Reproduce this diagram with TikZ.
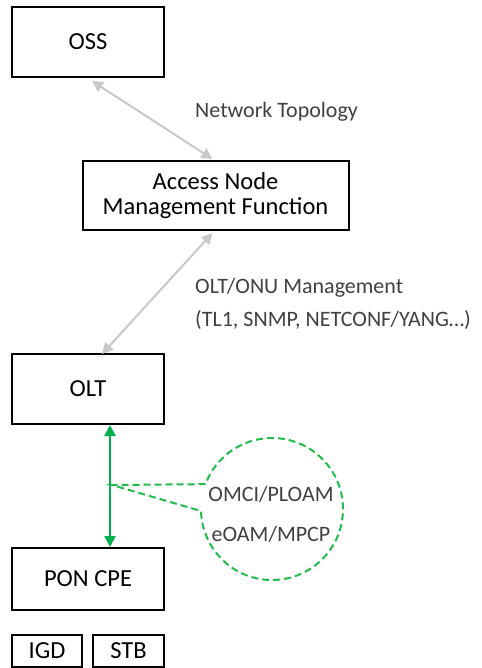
\documentclass[tikz,border=0pt]{standalone}
\usepackage{fontspec}
\setmainfont{Carlito}
\usetikzlibrary{arrows.meta,calc}
\definecolor{lgray}{HTML}{C8C8C8}
\definecolor{pgreen}{HTML}{00B050}
\definecolor{dgreen}{HTML}{22BB4C}
\definecolor{ltext}{HTML}{404040}
\tikzset{
  box/.style={draw=black,line width=2pt,inner sep=0pt,align=center,font=\fontsize{24.5}{25}\selectfont},
  grayarrow/.style={draw=lgray,line width=2pt,{Triangle[length=11pt,width=11pt]}-{Triangle[length=11pt,width=11pt]},shorten >=0pt,shorten <=0pt},
  greenarrow/.style={draw=pgreen,line width=2pt,{Triangle[length=11pt,width=11pt]}-{Triangle[length=11pt,width=11pt]}},
  callout/.style={draw=dgreen,line width=2pt,dash pattern=on 7pt off 4pt,line join=miter},
  lbl/.style={text=ltext,inner sep=0pt,anchor=west,font=\fontsize{22}{26}\selectfont},
}
\begin{document}
\begin{tikzpicture}[x=1pt,y=-1pt]
\useasboundingbox (0,0) rectangle (481,668);
\node[box,minimum width=152pt,minimum height=70pt] (oss) at (88,42) {OSS};
\node[box,minimum width=266pt,minimum height=69pt] (anmf) at (215.5,195.5) {Access Node\\Management Function};
\node[box,minimum width=152pt,minimum height=70pt] (olt) at (88,389) {OLT};
\node[box,minimum width=152pt,minimum height=62pt] (cpe) at (88,579) {PON CPE};
\node[box,minimum width=70pt,minimum height=32pt] (igd) at (47,651) {IGD};
\node[box,minimum width=71pt,minimum height=32pt] (stb) at (128.5,651) {STB};
\draw[grayarrow] ($(oss.south west)+(81,3)$) -- ($(anmf.north west)+(131,-1)$);
\draw[grayarrow] ($(anmf.south west)+(131,2)$) -- ($(olt.north west)+(91,1)$);
\draw[greenarrow] ($(olt.south west)+(99,0)$) -- ($(cpe.north west)+(99,0)$);
\coordinate (tip) at ($(olt.south west)+(101,60)$);
\coordinate (cc) at (272,509);
\node[lbl] (nt) at (195,112) {Network Topology};
\node[lbl] (om) at (195,288) {OLT/ONU Management};
\node[lbl] (tl) at (195,320) {(TL1, SNMP, NETCONF/YANG…)};
\draw[callout] ($(cc)+(200.5:71)$) -- (tip) -- ($(cc)+(178.4:71)$) arc[start angle=178.4,end angle=-159.5,radius=71];
\node[lbl,anchor=center] (omci) at (271,494) {OMCI/PLOAM};
\node[lbl,anchor=center] (eoam) at (271,534) {eOAM/MPCP};
\end{tikzpicture}
\end{document}
